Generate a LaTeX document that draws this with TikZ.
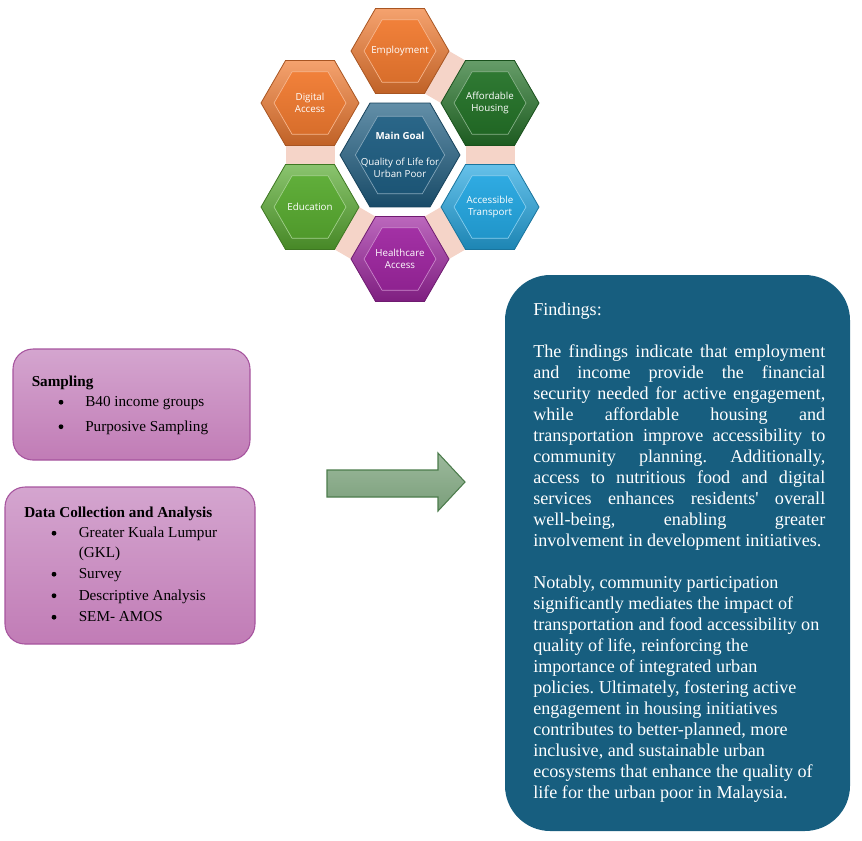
\documentclass[tikz,border=0pt]{standalone}
\usepackage{fontspec}
\setmainfont{Liberation Serif}
\newfontfamily\hexfont{Open Sans}
\usetikzlibrary{shapes.geometric,backgrounds}
\definecolor{hexorange}{RGB}{240,122,48}
\definecolor{hexdkgreen}{RGB}{36,114,40}
\definecolor{hexblue}{RGB}{31,94,130}
\definecolor{hexgreen}{RGB}{88,170,48}
\definecolor{hexsky}{RGB}{36,166,224}
\definecolor{hexpurple}{RGB}{158,38,160}
\definecolor{pinklink}{RGB}{245,212,200}
\definecolor{boxtop}{RGB}{212,165,207}
\definecolor{boxbottom}{RGB}{193,124,182}
\definecolor{boxedge}{RGB}{166,84,158}
\definecolor{findblue}{RGB}{23,94,127}
\definecolor{arrowtop}{RGB}{156,185,156}
\definecolor{arrowbottom}{RGB}{122,158,122}
\definecolor{arrowedge}{RGB}{76,124,76}
\tikzset{
    hexa/.style={
            regular polygon, regular polygon sides=6, inner sep=0pt, outer sep=0pt,
            minimum size=73.5pt, line width=0.6pt, draw=#1!70!black,
            top color=#1!70!white, bottom color=#1!80!black
        },
    hexin/.style={
            regular polygon, regular polygon sides=6, inner sep=0pt, outer sep=0pt,
            minimum size=54pt, line width=0.5pt, draw=#1!55!white,
            top color=#1!95!white, bottom color=#1!90!black
        },
    hextxt/.style={text=white, align=center, inner sep=0pt, font=\hexfont\fontsize{7.3}{9}\selectfont},
    link/.style={fill=pinklink},
    purplebox/.style={
            draw=boxedge, line width=0.8pt, rounded corners=15pt,
            top color=boxtop, bottom color=boxbottom
        },
    boxtxt/.style={anchor=base west, inner sep=0pt, font=\fontsize{11.4}{13}\selectfont},
    findbox/.style={fill=findblue, rounded corners=34pt},
    findtxt/.style={
            anchor=north west, inner sep=0pt, text width=219pt, align=justify,
            text=white, font=\fontsize{13.6}{15.75}\selectfont\frenchspacing
        },
    flowarrow/.style={draw=arrowedge, line width=0.8pt, top color=arrowtop, bottom color=arrowbottom},
}

\begin{document}
\begin{tikzpicture}[x=0.75pt, y=-0.75pt]
        \useasboundingbox (0,0) rectangle (862,840);
        %draw the hexagon cluster
        \node[hexa=hexblue, minimum size=90pt] (goal) at (400,155) {};
        \node[hexin=hexblue, minimum size=67pt] (goal-in) at (goal) {};
        \node[hextxt] (goal-txt) at (goal) {\textbf{Main Goal}\\[11pt]Quality of Life for\\Urban Poor};
        \foreach \nm/\x/\y/\col/\txt in {
                emp/400/51/hexorange/Employment,
                dig/310/103/hexorange/{Digital\\Access},
                aff/490/103/hexdkgreen/{Affordable\\Housing},
                edu/310/207/hexgreen/Education,
                tra/490/207/hexsky/{Accessible\\Transport},
                hea/400/259/hexpurple/{Healthcare\\Access}}{
                \node[hexa=\col] (\nm) at (\x,\y) {};
                \node[hexin=\col] (\nm-in) at (\nm) {};
                \node[hextxt] (\nm-txt) at (\nm) {\txt};
            }
        %draw the links behind the hexagons
        \begin{scope}[on background layer]
            \fill[link] (emp.300) -- (emp.0) -- (aff.120) -- (aff.180) -- cycle;
            \fill[link] (aff.240) -- (aff.300) -- (tra.60) -- (tra.120) -- cycle;
            \fill[link] (tra.180) -- (tra.240) -- (hea.0) -- (hea.60) -- cycle;
            \fill[link] (edu.300) -- (edu.0) -- (hea.120) -- (hea.180) -- cycle;
            \fill[link] (dig.240) -- (dig.300) -- (edu.60) -- (edu.120) -- cycle;
        \end{scope}
        %draw sampling box
        \node[purplebox, minimum width=177.75pt, minimum height=83.25pt] (samp) at (131.5,404.5) {};
        \node[boxtxt] (samp-head) at (31.5,386) {\bfseries Sampling};
        \foreach \i/\y/\t in {1/406.5/B40 income groups, 2/431/Purposive Sampling}{
                \fill (61,\y-4.3) circle (1.8pt);
                \node[boxtxt] (samp-\i) at (85,\y) {\t};
            }
        %draw data collection box
        \node[purplebox, minimum width=187.5pt, minimum height=117.75pt] (data) at (130,565.5) {};
        \node[boxtxt] (data-head) at (24,517.5) {\bfseries Data Collection and Analysis};
        \foreach \i/\y/\t in {1/537.5/Greater Kuala Lumpur, 2/578.5/Survey, 3/600/Descriptive Analysis, 4/621.5/SEM- AMOS}{
                \fill (54,\y-4.3) circle (1.8pt);
                \node[boxtxt] (data-\i) at (78.5,\y) {\t};
            }
        \node[boxtxt] (data-gkl) at (78.5,557.5) {(GKL)};
        %draw block arrow
        \draw[flowarrow] (327,470) -- (438,470) -- (438,453) -- (465,482) -- (438,511) -- (438,497) -- (327,497) -- cycle;
        %draw findings box
        \node[findbox, minimum width=258.75pt, minimum height=417pt] (find) at (677.5,553) {};
        \node[findtxt] (find-txt) at (533,302.5) {Findings:\par\vspace{\baselineskip}
            The findings indicate that employment\linebreak
            and income provide the financial\linebreak
            security needed for active engagement,\linebreak
            while affordable housing and\linebreak
            transportation improve accessibility to\linebreak
            community planning. Additionally,\linebreak
            access to nutritious food and digital\linebreak
            services enhances residents\textquotesingle{} overall\linebreak
            well-being, enabling greater\linebreak
            \mbox{involvement in development initiatives.}\par\vspace{\baselineskip}
            {\raggedright Notably, community participation\\
            significantly mediates the impact of\\
            transportation and food accessibility on\\
            quality of life, reinforcing the\\
            importance of integrated urban\\
            policies. Ultimately, fostering active\\
            engagement in housing initiatives\\
            contributes to better-planned, more\\
            inclusive, and sustainable urban\\
            ecosystems that enhance the quality of\\
            life for the urban poor in Malaysia.\par}};
    \end{tikzpicture}
\end{document}
